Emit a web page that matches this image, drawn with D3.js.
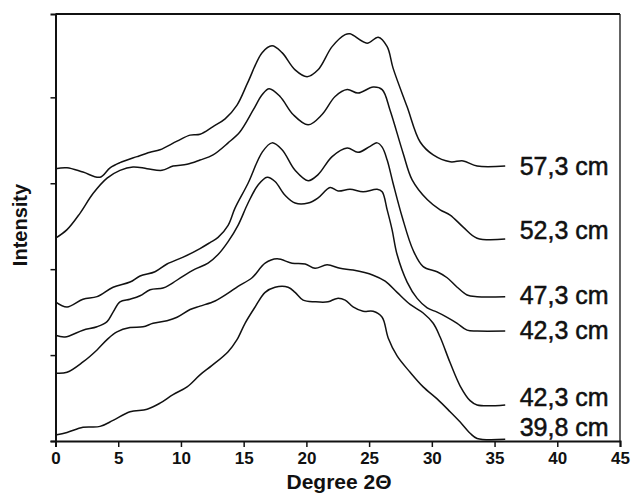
<!DOCTYPE html>
<html>
<head>
<meta charset="utf-8">
<script src="https://cdn.jsdelivr.net/npm/d3@7"></script>
<style>
  body { margin: 0; background: #fff; }
  svg { display: block; }
  text { font-family: "Liberation Sans", Arial, Helvetica, sans-serif; fill: #111; }
</style>
</head>
<body>
<svg id="chart" width="631" height="495"></svg>
<script>
// ---- data (degree 2θ, intensity in arbitrary stacked units) ----
const xTicks = [0, 5, 10, 15, 20, 25, 30, 35, 40, 45];
const yTicks = [0, 1, 2, 3, 4];

const s573 = [[0,3.17],[0.92,3.18],[2.19,3.13],[3.55,3.07],[4.35,3.18],[5.14,3.24],[6.5,3.31],[7.54,3.36],[8.33,3.39],[9.69,3.49],[10.73,3.56],[11.52,3.57],[12.56,3.66],[13.52,3.75],[14.47,3.91],[15.35,4.18],[16.47,4.52],[17.26,4.60],[18.06,4.52],[19.1,4.32],[20.06,4.24],[20.93,4.32],[22.05,4.59],[23.09,4.73],[23.48,4.74],[24.84,4.63],[25.72,4.70],[26.44,4.59],[26.91,4.34],[28.03,3.89],[29.07,3.48],[30.11,3.33],[31.46,3.25],[32.5,3.26],[33.61,3.20],[35.85,3.20]];

const s523 = [[0,2.36],[0.92,2.46],[1.95,2.65],[2.99,2.88],[4.11,3.06],[5.14,3.15],[6.18,3.19],[7.30,3.17],[8.49,3.15],[9.37,3.20],[10.49,3.22],[11.52,3.27],[12.56,3.33],[13.76,3.47],[14.71,3.60],[15.75,3.85],[16.47,4.03],[17.03,4.10],[17.90,4.01],[18.94,3.80],[20.14,3.68],[21.25,3.80],[22.29,4.01],[23.25,4.09],[24.12,4.05],[25.32,4.12],[26.04,4.09],[26.67,3.85],[27.71,3.35],[28.43,3.04],[29.63,2.81],[30.66,2.69],[31.46,2.63],[32.50,2.49],[33.61,2.36],[35.85,2.35]];

const s473 = [[0,1.62],[0.92,1.56],[2.19,1.65],[3.31,1.68],[4.59,1.79],[5.94,1.85],[6.74,1.92],[7.93,1.97],[8.89,2.06],[10.18,2.14],[11.52,2.24],[12.32,2.31],[12.96,2.37],[13.76,2.51],[14.31,2.71],[15.35,3.00],[16.47,3.36],[17.26,3.47],[18.06,3.39],[19.10,3.15],[20.14,3.03],[20.93,3.10],[22.05,3.31],[23.25,3.41],[24.12,3.36],[25.08,3.43],[25.64,3.47],[26.04,3.42],[26.44,3.27],[26.91,3.00],[27.63,2.61],[28.51,2.22],[29.31,2.03],[30.42,1.97],[31.22,1.90],[32.02,1.79],[32.81,1.70],[33.61,1.68],[35.85,1.68]];

const s423a = [[0,1.23],[0.76,1.21],[2.19,1.29],[3.31,1.33],[4.11,1.39],[4.59,1.50],[5.14,1.62],[5.94,1.65],[6.74,1.69],[7.54,1.76],[8.57,1.78],[9.13,1.82],[10.18,1.92],[11.12,2.00],[12.16,2.07],[12.96,2.17],[13.76,2.32],[14.55,2.51],[15.35,2.77],[16.15,2.98],[16.87,3.07],[17.50,3.02],[18.30,2.86],[19.10,2.77],[20.14,2.77],[20.93,2.83],[21.89,2.95],[22.53,2.91],[23.48,2.93],[24.52,2.90],[25.64,2.93],[26.04,2.90],[26.44,2.69],[26.83,2.46],[27.23,2.17],[28.03,1.85],[28.83,1.66],[29.63,1.55],[30.42,1.50],[31.22,1.44],[32.02,1.37],[32.81,1.29],[33.61,1.28],[35.85,1.28]];

const s423b = [[0,0.79],[0.92,0.80],[2.19,0.92],[3.31,1.06],[4.11,1.18],[4.90,1.27],[5.94,1.32],[6.98,1.33],[7.78,1.37],[8.89,1.40],[9.69,1.44],[10.73,1.53],[11.52,1.57],[12.72,1.63],[13.76,1.72],[14.55,1.80],[15.67,1.90],[16.71,2.07],[17.66,2.12],[18.86,2.07],[19.90,2.06],[20.69,2.01],[21.65,2.05],[22.69,2.01],[23.72,1.99],[25.32,1.93],[26.28,1.86],[27.23,1.73],[28.27,1.59],[29.31,1.49],[30.11,1.37],[30.66,1.21],[31.46,0.91],[32.26,0.64],[33.05,0.47],[33.61,0.42],[35.85,0.42]];

const s398 = [[0,0.07],[0.92,0.10],[2.19,0.16],[3.55,0.17],[4.59,0.24],[5.94,0.34],[7.30,0.37],[8.33,0.44],[9.37,0.54],[10.49,0.63],[11.52,0.77],[12.48,0.88],[13.76,1.04],[14.47,1.18],[15.11,1.37],[15.91,1.56],[16.71,1.73],[17.50,1.79],[18.54,1.79],[19.10,1.73],[19.74,1.64],[20.69,1.62],[21.73,1.62],[22.45,1.66],[23.09,1.64],[23.72,1.56],[24.52,1.51],[25.32,1.51],[26.04,1.44],[26.52,1.20],[27.23,0.99],[28.27,0.80],[29.31,0.63],[30.42,0.49],[31.46,0.34],[32.26,0.22],[33.05,0.09],[33.61,0.03],[35.85,0.02]];

const seriesData = [s573, s523, s473, s423a, s423b, s398];
const seriesLabels = ["57,3 cm", "52,3 cm", "47,3 cm", "42,3 cm", "42,3 cm", "39,8 cm"];
const labelY = [3.20, 2.46, 1.70, 1.29, 0.51, 0.16];
const labelX = 37;

// ---- layout ----
const svg = d3.select("#chart");
const mLeft = 55.5, mRight = 620, mTop = 14, mBottom = 441;

const x = d3.scaleLinear().domain([0, 45]).range([mLeft, mRight]);
const y = d3.scaleLinear().domain([0, 4.97]).range([mBottom, mTop]);

// frame (top + right)
svg.append("line").attr("x1", mLeft).attr("x2", mRight).attr("y1", mTop).attr("y2", mTop)
  .attr("stroke", "#111").attr("stroke-width", 2);
svg.append("line").attr("x1", mRight).attr("x2", mRight).attr("y1", mTop).attr("y2", mBottom)
  .attr("stroke", "#111").attr("stroke-width", 1.3);

// x axis
const gx = svg.append("g").attr("transform", `translate(0,${mBottom})`)
  .call(d3.axisBottom(x).tickValues(xTicks).tickSize(6).tickPadding(5).tickFormat(d3.format("d")));
gx.select(".domain").attr("stroke", "#111").attr("stroke-width", 2);
gx.selectAll(".tick line").attr("stroke", "#111").attr("stroke-width", 1.5);
gx.selectAll(".tick text").style("font-size", "17px").style("font-weight", "bold")
  .style("font-family", "'Liberation Sans', Arial, sans-serif").attr("fill", "#111");

// y axis
const gy = svg.append("g").attr("transform", `translate(${mLeft},0)`)
  .call(d3.axisLeft(y).tickValues(yTicks).tickSize(5).tickFormat(""));
gy.select(".domain").attr("stroke", "#111").attr("stroke-width", 2);
gy.selectAll(".tick line").attr("stroke", "#111").attr("stroke-width", 1.5);

// curves
const line = d3.line().x(d => x(d[0])).y(d => y(d[1])).curve(d3.curveCatmullRom.alpha(0.5));
svg.append("g").selectAll("path").data(seriesData).join("path")
  .attr("d", line).attr("fill", "none").attr("stroke", "#111").attr("stroke-width", 1.5);

// series labels
svg.append("g").selectAll("text").data(seriesLabels).join("text")
  .attr("x", x(labelX)).attr("y", (d, i) => y(labelY[i])).attr("dy", "0.36em")
  .style("font-size", "25px").attr("stroke", "#111").attr("stroke-width", 0.5).text(d => d);

// axis titles
svg.append("text").attr("x", 339).attr("y", 489).attr("text-anchor", "middle")
  .style("font-size", "21px").style("font-weight", "bold").text("Degree 2Θ");
svg.append("text").attr("transform", "translate(27,225) rotate(-90)").attr("text-anchor", "middle")
  .style("font-size", "20px").style("font-weight", "bold").text("Intensity");
</script>
</body>
</html>
